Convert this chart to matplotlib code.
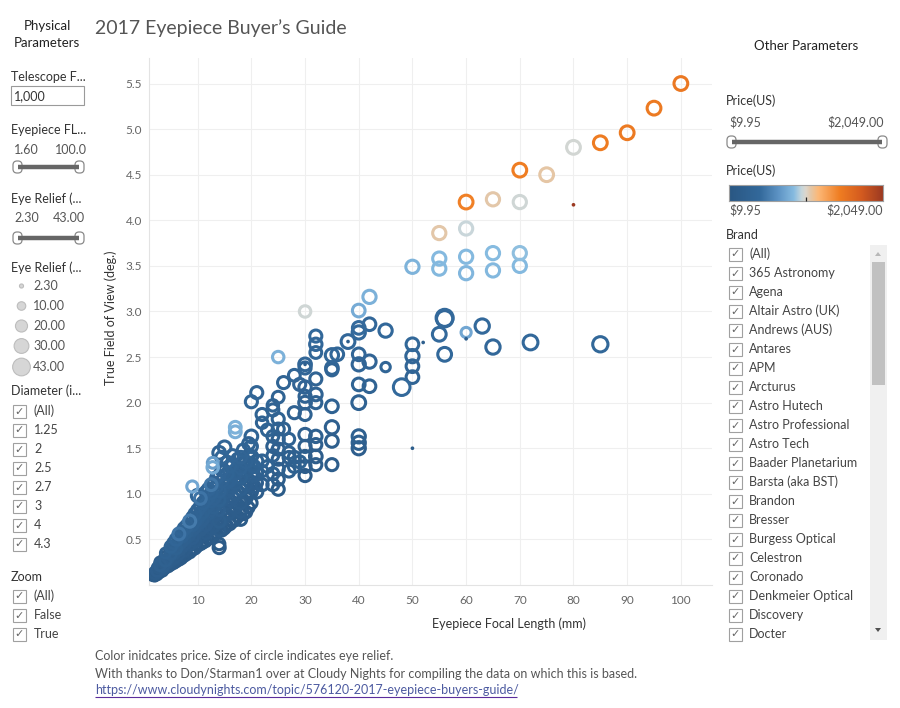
import numpy as np
import matplotlib
matplotlib.use("Agg")
import matplotlib.pyplot as plt
from matplotlib.colors import LinearSegmentedColormap, Normalize
from matplotlib.patches import Rectangle, FancyBboxPatch, Circle, Polygon
from matplotlib.lines import Line2D
from matplotlib.transforms import Affine2D

plt.rcParams['font.family'] = ['Lato', 'DejaVu Sans']

# eyepieces: focal length, true field, eye relief, price
focal_mm = [
    1.6,
    2, 2, 2,
    2.5, 2.5, 2.5, 2.5,
    3, 3, 3, 3, 3,
    3.5, 3.5, 3.5, 3.5,
    4, 4, 4, 4, 4, 4,
    4.5, 4.5, 4.5,
    5, 5, 5, 5, 5, 5,
    6, 6, 6, 6, 6, 6,
    7, 7, 7, 7, 7, 7,
    8, 8, 8, 8, 8, 8,
    9, 9, 9, 9, 9, 9, 9,
    10, 10, 10, 10, 10, 10, 10,
    11, 11, 11, 11, 11, 11,
    12, 12, 12, 12, 12, 12, 12,
    12.8, 12.8,
    13, 13, 13, 13, 13, 13,
    14, 14, 14, 14, 14, 14, 14, 14, 14,
    15, 15, 15, 15, 15, 15, 15,
    16, 16, 16, 16, 16, 16,
    17, 17, 17, 17, 17, 17, 17,
    18, 18, 18, 18, 18, 18, 18,
    19, 19, 19, 19, 19,
    20, 20, 20, 20, 20, 20, 20, 20, 20,
    21, 21, 21, 21, 21,
    22, 22,
    24, 24, 24, 24,
    25, 25, 25, 25, 25, 25, 25, 25, 25, 25,
    26, 26,
    27, 27, 27,
    28, 28, 28,
    30, 30, 30, 30, 30, 30, 30, 30, 30, 30, 30, 30,
    32, 32, 32, 32, 32, 32, 32, 32, 32, 32,
    35, 35, 35, 35, 35, 35, 35,
    36,
    38,
    40, 40, 40, 40, 40, 40, 40, 40, 40, 40,
    42, 42, 42, 42,
    45, 45,
    48,
    50, 50, 50, 50, 50,
    55, 55, 55, 55,
    56, 56, 56,
    60, 60, 60, 60, 60,
    63,
    65, 65, 65, 65,
    70, 70, 70, 70,
    72,
    75,
    80,
    85, 85,
    90,
    95,
    100,
]
tfov_deg = [
    0.09,
    0.09, 0.11, 0.13,
    0.11, 0.14, 0.16, 0.19,
    0.13, 0.16, 0.19, 0.22, 0.25,
    0.15, 0.18, 0.21, 0.24,
    0.17, 0.20, 0.24, 0.27, 0.31, 0.35,
    0.20, 0.25, 0.29,
    0.21, 0.26, 0.30, 0.34, 0.38, 0.42,
    0.25, 0.31, 0.36, 0.40, 0.44, 0.50,
    0.29, 0.36, 0.42, 0.47, 0.53, 0.58,
    0.33, 0.41, 0.47, 0.52, 0.58, 0.65,
    0.38, 0.46, 0.52, 0.60, 0.66, 0.74, 1.08,
    0.42, 0.50, 0.58, 0.65, 0.72, 0.82, 0.98,
    0.46, 0.55, 0.63, 0.72, 0.80, 0.90,
    0.50, 0.60, 0.70, 0.78, 0.87, 0.96, 1.05,
    1.29, 1.34,
    0.54, 0.65, 0.75, 0.85, 0.95, 1.12,
    0.41, 0.45, 0.60, 0.70, 0.82, 0.93, 1.03, 1.20, 1.45,
    0.62, 0.75, 0.88, 0.98, 1.10, 1.25, 1.51,
    0.67, 0.80, 0.93, 1.05, 1.15, 1.30,
    0.71, 0.85, 1.00, 1.12, 1.22, 1.68, 1.73,
    0.72, 0.81, 0.90, 1.05, 1.18, 1.28, 1.40,
    0.80, 0.95, 1.10, 1.25, 1.35,
    0.90, 1.02, 1.12, 1.22, 1.32, 1.41, 1.52, 1.63, 2.01,
    1.02, 1.12, 1.23, 1.36, 2.11,
    1.78, 1.87,
    1.52, 1.63, 1.92, 1.97,
    1.05, 1.16, 1.27, 1.38, 1.49, 1.60, 1.71, 1.82, 2.06, 2.50,
    1.71, 2.22,
    1.40, 1.45, 1.60,
    1.40, 1.89, 2.30,
    1.20, 1.30, 1.41, 1.52, 1.65, 1.87, 2.00, 2.07, 2.17, 2.38, 2.42, 3.00,
    1.32, 1.41, 1.54, 1.63, 2.00, 2.09, 2.26, 2.55, 2.64, 2.73,
    1.32, 1.58, 1.73, 1.96, 2.36, 2.38, 2.52,
    2.53,
    2.67,
    1.50, 1.56, 1.63, 2.00, 2.20, 2.42, 2.53, 2.77, 2.82, 3.01,
    2.18, 2.45, 2.86, 3.16,
    2.39, 2.79,
    2.17,
    2.28, 2.40, 2.51, 2.64, 3.49,
    2.75, 3.47, 3.58, 3.86,
    2.53, 2.92, 2.93,
    2.77, 3.42, 3.60, 3.91, 4.20,
    2.84,
    2.61, 3.45, 3.64, 4.23,
    3.50, 3.64, 4.20, 4.55,
    2.66,
    4.50,
    4.80,
    2.64, 4.85,
    4.96,
    5.23,
    5.50,
]
eye_relief_mm = [
    8,
    10, 14, 18,
    12, 15, 20, 14,
    10, 16, 20, 18, 15,
    12, 18, 20, 16,
    8, 16, 20, 18, 16, 14,
    14, 18, 16,
    10, 18, 20, 17, 16, 18,
    12, 20, 18, 16, 17, 20,
    14, 18, 20, 16, 18, 19,
    12, 16, 20, 18, 17, 20,
    14, 18, 20, 16, 20, 18, 17,
    12, 18, 20, 17, 18, 20, 22,
    14, 20, 18, 16, 18, 20,
    14, 18, 20, 16, 18, 20, 20,
    18, 16,
    16, 20, 18, 17, 20, 19,
    20, 18, 18, 20, 16, 19, 20, 18, 22,
    16, 18, 20, 18, 20, 19, 22,
    18, 20, 17, 19, 20, 18,
    16, 20, 18, 20, 17, 19, 19,
    20, 20, 18, 19, 20, 18, 20,
    18, 20, 17, 19, 20,
    18, 20, 22, 20, 19, 21, 20, 22, 20,
    20, 18, 19, 20, 20,
    18, 20,
    20, 19, 20, 18,
    20, 20, 20, 20, 20, 20, 20, 20, 19, 18,
    20, 20,
    19, 20, 18,
    20, 20, 19,
    20, 20, 20, 20, 21, 20, 22, 20, 21, 20, 22, 18,
    20, 22, 20, 21, 20, 22, 20, 19, 21, 20,
    20, 22, 24, 22, 20, 22, 24,
    22,
    26,
    24, 24, 24, 26, 22, 24, 22, 24, 22, 22,
    22, 24, 22, 24,
    12, 24,
    38,
    22, 22, 24, 22, 24,
    26, 24, 24, 24,
    26, 36, 40,
    14, 24, 24, 24, 26,
    28,
    28, 24, 24, 24,
    24, 24, 24, 26,
    30,
    26,
    26,
    32, 26,
    26,
    26,
    26,
]
price_usd = [
    90,
    60, 120, 150,
    70, 110, 180, 140,
    50, 100, 160, 220, 130,
    80, 150, 200, 120,
    60, 100, 170, 230, 150, 260,
    90, 140, 190,
    70, 120, 150, 240, 180, 300,
    60, 130, 160, 250, 210, 330,
    80, 110, 170, 220, 260, 300,
    70, 120, 150, 190, 240, 310,
    90, 130, 180, 210, 260, 290, 760,
    60, 110, 140, 200, 230, 280, 350,
    80, 120, 170, 220, 250, 300,
    70, 130, 160, 210, 240, 290, 340,
    780, 720,
    90, 140, 170, 230, 270, 310,
    110, 120, 150, 190, 220, 250, 290, 320, 280,
    80, 130, 160, 200, 240, 280, 330,
    100, 140, 180, 220, 260, 300,
    90, 150, 190, 230, 270, 800, 820,
    120, 140, 170, 210, 250, 290, 310,
    130, 160, 200, 240, 280,
    100, 150, 170, 200, 230, 260, 280, 300, 330,
    140, 180, 210, 250, 310,
    260, 290,
    220, 250, 280, 300,
    120, 140, 160, 180, 200, 220, 240, 260, 280, 820,
    230, 300,
    200, 240, 260,
    210, 270, 330,
    110, 140, 160, 190, 220, 250, 270, 290, 320, 340, 360, 990,
    150, 170, 200, 230, 260, 290, 310, 350, 380, 400,
    160, 190, 220, 260, 300, 330, 370,
    350,
    380,
    180, 200, 230, 260, 300, 330, 360, 400, 430, 790,
    280, 320, 380, 820,
    330, 400,
    420,
    300, 340, 360, 390, 830,
    420, 850, 860, 1090,
    400, 380, 420,
    760, 840, 860, 980, 1460,
    410,
    380, 850, 870, 1090,
    860, 880, 990, 1480,
    400,
    1100,
    1000,
    390, 1490,
    1500,
    1500,
    1520,
]

# in-between focal lengths filling the dense band below 25 mm
band_focal_mm = [
    2.2, 2.2,
    5.5, 5.5, 5.5, 5.5, 5.5,
    6.5, 6.5, 6.5, 6.5, 6.5,
    7.5, 7.5, 7.5, 7.5, 7.5, 7.5,
    8.5, 8.5, 8.5, 8.5, 8.5, 8.5,
    9.5, 9.5, 9.5, 9.5, 9.5, 9.5,
    10.5, 10.5, 10.5, 10.5, 10.5, 10.5, 10.5,
    11.5, 11.5, 11.5, 11.5, 11.5, 11.5, 11.5,
    12.5, 12.5, 12.5, 12.5, 12.5, 12.5, 12.5,
    13.5, 13.5, 13.5, 13.5, 13.5, 13.5, 13.5,
    14.5, 14.5, 14.5, 14.5, 14.5, 14.5, 14.5, 14.5,
    15.5, 15.5, 15.5, 15.5, 15.5, 15.5, 15.5,
    16.5, 16.5, 16.5, 16.5, 16.5, 16.5, 16.5,
    17.5, 17.5, 17.5, 17.5, 17.5, 17.5,
    18.5, 18.5, 18.5, 18.5, 18.5, 18.5,
    19.5, 19.5, 19.5, 19.5, 19.5, 19.5,
    20.5, 20.5, 20.5,
    22, 22, 22,
    23, 23,
    24, 24, 24,
    27, 28, 29, 29,
]
band_tfov_deg = [
    0.10, 0.12,
    0.24, 0.29, 0.35, 0.40, 0.46,
    0.28, 0.34, 0.39, 0.45, 0.56,
    0.32, 0.38, 0.45, 0.50, 0.56, 0.62,
    0.36, 0.44, 0.50, 0.56, 0.63, 0.70,
    0.40, 0.48, 0.56, 0.63, 0.70, 0.78,
    0.45, 0.53, 0.61, 0.69, 0.77, 0.86, 0.95,
    0.48, 0.57, 0.66, 0.75, 0.84, 0.93, 1.02,
    0.52, 0.62, 0.72, 0.82, 0.92, 1.01, 1.10,
    0.57, 0.67, 0.78, 0.88, 0.99, 1.08, 1.18,
    0.60, 0.71, 0.82, 0.93, 1.04, 1.14, 1.26, 1.40,
    0.65, 0.77, 0.90, 1.02, 1.13, 1.22, 1.35,
    0.70, 0.83, 0.96, 1.08, 1.20, 1.32, 1.42,
    0.75, 0.88, 1.02, 1.15, 1.28, 1.38,
    0.78, 0.92, 1.08, 1.22, 1.34, 1.48,
    0.85, 1.00, 1.15, 1.30, 1.42, 1.55,
    1.08, 1.20, 1.30,
    1.10, 1.25, 1.36,
    1.30, 1.70,
    1.10, 1.22, 1.42,
    1.25, 1.30, 1.35, 2.20,
]
band_eye_relief_mm = [
    10, 12,
    16, 18, 20, 17, 18,
    18, 16, 20, 18, 19,
    16, 18, 20, 17, 19, 20,
    18, 17, 20, 19, 18, 20,
    16, 18, 20, 17, 19, 20,
    18, 17, 20, 19, 18, 20, 19,
    16, 18, 20, 17, 19, 20, 18,
    18, 17, 20, 19, 18, 20, 19,
    16, 18, 20, 17, 19, 20, 18,
    18, 17, 20, 19, 18, 20, 19, 20,
    16, 18, 20, 17, 19, 20, 18,
    18, 17, 20, 19, 18, 20, 19,
    16, 18, 20, 17, 19, 20,
    18, 17, 20, 19, 18, 20,
    16, 18, 20, 17, 19, 20,
    20, 19, 20,
    20, 18, 20,
    19, 20,
    20, 20, 19,
    20, 20, 20, 20,
]
band_price_usd = [
    80, 120,
    110, 150, 190, 230, 280,
    90, 140, 170, 220, 480,
    100, 130, 180, 210, 250, 300,
    90, 140, 160, 200, 240, 520,
    110, 150, 170, 220, 260, 300,
    100, 130, 170, 210, 250, 290, 480,
    90, 140, 180, 200, 240, 280, 320,
    110, 150, 170, 220, 260, 300, 500,
    100, 130, 180, 210, 250, 290, 330,
    90, 140, 160, 200, 240, 280, 320, 360,
    110, 150, 170, 220, 260, 300, 340,
    100, 130, 180, 210, 250, 290, 330,
    90, 140, 160, 200, 240, 280,
    110, 150, 170, 220, 260, 300,
    100, 130, 180, 210, 250, 290,
    180, 220, 260,
    200, 240, 280,
    250, 300,
    190, 230, 270,
    210, 230, 250, 320,
]

# eyepieces with no eye relief listed (drawn as dots)
dot_focal_mm = [30, 38, 50, 52, 60, 80]
dot_tfov_deg = [2.42, 2.67, 1.50, 2.66, 2.70, 4.17]
dot_price_usd = [200, 150, 150, 200, 200, 2049]

price_min, price_max = 9.95, 2049.00
legend_relief = [2.30, 10.00, 20.00, 30.00, 43.00]
diameters = ["(All)", "1.25", "2", "2.5", "2.7", "3", "4", "4.3"]
zoom_opts = ["(All)", "False", "True"]
brands = ["(All)", "365 Astronomy", "Agena", "Altair Astro (UK)", "Andrews (AUS)",
          "Antares", "APM", "Arcturus", "Astro Hutech", "Astro Professional",
          "Astro Tech", "Baader Planetarium", "Barsta (aka BST)", "Brandon",
          "Bresser", "Burgess Optical", "Celestron", "Coronado",
          "Denkmeier Optical", "Discovery", "Docter"]

cmap = LinearSegmentedColormap.from_list("orange_blue", [
    (0.0, "#2a5783"), (0.2, "#33699b"), (0.32, "#5d93c4"), (0.42, "#86bbe0"),
    (0.47, "#c5d6dc"), (0.5, "#ddd6cc"), (0.53, "#e3c7a8"), (0.58, "#fcb877"),
    (0.72, "#ef7d22"), (0.86, "#d45b1f"), (1.0, "#9c3a22")])
norm = Normalize(price_min, price_max)

W, H = 900, 708
fig = plt.figure(figsize=(9, 7.08), dpi=100)
px = Affine2D().scale(1.0 / W, -1.0 / H).translate(0, 1) + fig.transFigure


def text(x, y, s, size=9, color="#333333", ha="left", va="center", **kw):
    return fig.text(x, y, s, transform=px, fontsize=size, color=color,
                    ha=ha, va=va, **kw)


def line(xs, ys, color, lw):
    fig.add_artist(Line2D(xs, ys, transform=px, color=color, lw=lw,
                          solid_capstyle="butt"))


def relief_diam(er):
    return 2.7 * np.sqrt(er)


def slider(x0, x1, y):
    line([x0 + 5, x1 - 5], [y, y], "#666666", 3.2)
    for hx in (x0, x1 - 9):
        fig.add_artist(FancyBboxPatch((hx, y - 6), 9, 12,
                                      boxstyle="round,pad=0,rounding_size=4",
                                      transform=px, fc="white", ec="#8a8a8a", lw=0.9))


def checkbox(x, y, label, lx):
    fig.add_artist(Rectangle((x, y - 6.5), 13, 13, transform=px,
                             fc="white", ec="#a0a0a0", lw=0.8))
    text(x + 6.5, y + 0.5, "\u2713", size=8, color="#666666", ha="center",
         family=["DejaVu Sans"])
    text(lx, y, label, size=9, color="#444444")


# ---- main scatter ----
ax = fig.add_axes([149 / W, 1 - 585 / H, (712 - 149) / W, (585 - 58) / H])
fl = np.array(focal_mm + band_focal_mm, float)
fv = np.array(tfov_deg + band_tfov_deg, float)
er = np.array(eye_relief_mm + band_eye_relief_mm, float)
pr = np.array(price_usd + band_price_usd, float)
order = np.argsort(pr)
sizes = (relief_diam(er) * 0.72) ** 2
ax.scatter(fl[order], fv[order], s=sizes[order], facecolors="none",
           edgecolors=cmap(norm(pr[order])), linewidths=2.2, zorder=3)
ax.scatter(dot_focal_mm, dot_tfov_deg, s=7, c=cmap(norm(np.array(dot_price_usd))),
           linewidths=0, zorder=4)

ax.set_xlim(0.93, 105.8)
ax.set_ylim(0.0, 5.78)
ax.set_xticks(np.arange(10, 101, 10))
ax.set_yticks(np.arange(0.5, 5.51, 0.5))
ax.set_yticklabels([f"{v:.1f}" for v in np.arange(0.5, 5.51, 0.5)])
ax.grid(True, color="#efefef", lw=0.8, zorder=0)
ax.set_axisbelow(True)
ax.tick_params(length=0, labelsize=8.5, labelcolor="#666666")
ax.tick_params(axis="y", pad=5)
ax.tick_params(axis="x", pad=7)
for side in ("top", "right"):
    ax.spines[side].set_visible(False)
for side in ("left", "bottom"):
    ax.spines[side].set_color("#e3e3e3")
    ax.spines[side].set_linewidth(0.8)

text(432, 624, "Eyepiece Focal Length (mm)", size=9)
text(111, 318, "True Field of View (deg.)", size=9, ha="center", rotation=90)
text(95, 28, "2017 Eyepiece Buyer\u2019s Guide", size=14, color="#555555")

# ---- left panel ----
text(47, 26, "Physical", size=9.5, color="#222222", ha="center")
text(47, 43, "Parameters", size=9.5, color="#222222", ha="center")
text(11, 77, "Telescope F...")
fig.add_artist(Rectangle((11, 86), 73, 19, transform=px, fc="white",
                         ec="#9a9a9a", lw=0.8))
text(14, 96, "1,000", size=9)
text(11, 130, "Eyepiece FL...")
text(14, 150, "1.60", color="#555555")
text(55, 150, "100.0", color="#555555")
slider(13, 84, 167)
text(11, 199, "Eye Relief (...")
text(14, 218, "2.30", color="#555555")
text(53, 218, "43.00", color="#555555")
slider(13, 84, 238)
text(11, 268, "Eye Relief (...")
for v, y in zip(legend_relief, [286, 306, 326, 346, 367]):
    fig.add_artist(Circle((21.5, y), relief_diam(v) / 2, transform=px,
                          fc="#d6d6d6", ec="#bdbdbd", lw=0.8))
    text(33, y, f"{v:.2f}", color="#555555")

text(11, 391, "Diameter (i...")
for i, lab in enumerate(diameters):
    checkbox(13, 411 + 19 * i, lab, 34)
text(11, 577, "Zoom")
for i, lab in enumerate(zoom_opts):
    checkbox(13, 596 + 19 * i, lab, 34)

# ---- right panel ----
text(806, 46, "Other Parameters", size=9.5, color="#222222", ha="center")
text(726, 101, "Price(US)")
text(729, 122, "$9.95", color="#555555")
text(884, 122, "$2,049.00", color="#555555", ha="right")
slider(727, 887, 142)
text(726, 171, "Price(US)")
cax = fig.add_axes([729 / W, 1 - 201 / H, 154 / W, 16 / H])
cax.imshow(np.linspace(0, 1, 256)[None, :], aspect="auto", cmap=cmap,
           extent=[0, 1, 0, 1])
cax.set_xticks([])
cax.set_yticks([])
for sp in cax.spines.values():
    sp.set_color("#a0a0a0")
    sp.set_linewidth(0.8)
line([806, 806], [197, 201], "#222222", 0.9)
text(729, 210, "$9.95", color="#555555")
text(883, 210, "$2,049.00", color="#555555", ha="right")
text(726, 235, "Brand")

fig.add_artist(Rectangle((870, 245), 17, 395, transform=px, fc="#f0f0f0",
                         ec="none"))
fig.add_artist(Rectangle((872, 262), 13, 123, transform=px, fc="#c1c1c1",
                         ec="none"))
fig.add_artist(Polygon([[875, 256], [881, 256], [878, 252]], closed=True,
                       transform=px, fc="#b8b8b8", ec="none"))
fig.add_artist(Polygon([[875, 628], [881, 628], [878, 632]], closed=True,
                       transform=px, fc="#505050", ec="none"))
for i, lab in enumerate(brands):
    checkbox(729, 254 + 19 * i, lab, 749)

# ---- footer ----
text(95, 656, "Color inidcates price. Size of circle indicates eye relief.",
     color="#555555")
text(95, 674, "With thanks to Don/Starman1 over at Cloudy Nights for compiling "
     "the data on which this is based.", color="#555555")
text(95, 690, "https://www.cloudynights.com/topic/576120-2017-eyepiece-buyers-guide/",
     color="#4c5aa0")
line([95, 517], [697, 697], "#5b2c9c", 0.8)

fig.savefig("out.png", dpi=100)
